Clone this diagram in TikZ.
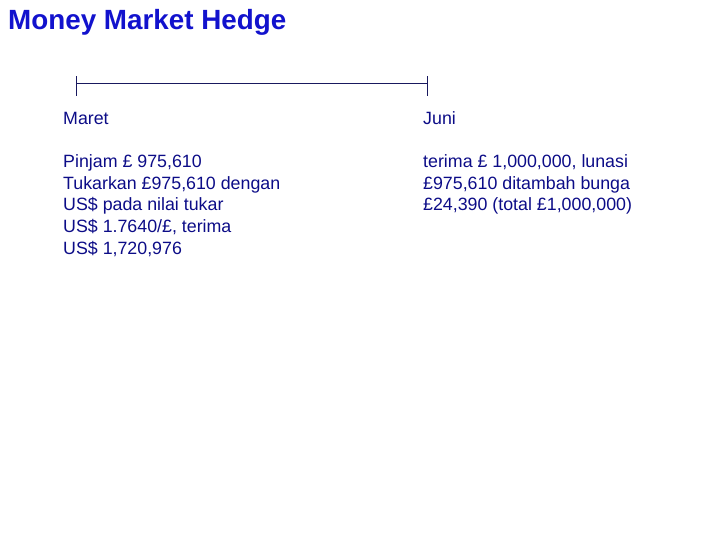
\documentclass[tikz,border=0pt]{standalone}
\usepackage{fontspec}
\setmainfont{Liberation Sans}
\usepackage{tikz}

\definecolor{judul}{RGB}{18,18,205}
\definecolor{teks}{RGB}{12,12,135}
\definecolor{garis}{RGB}{25,25,95}

\tikzset{
    blok/.style={anchor=north west, inner sep=0pt, align=left, text=teks,
        font=\fontsize{17.8}{21.7}\selectfont},
    bulan/.style={anchor=base west, inner sep=0pt, text=teks,
        font=\fontsize{17.8}{21.7}\selectfont},
}

\begin{document}
\begin{tikzpicture}[x=1pt, y=-1pt]
    \useasboundingbox (0,0) rectangle (720,540);

    \node[anchor=base west, inner sep=0pt, text=judul,
        font=\fontsize{27.8}{32}\selectfont\bfseries] (judul) at (8,29.5) {Money Market Hedge};

    % garis waktu
    \coordinate (maret) at (76.5,84);
    \coordinate (juni) at (427.5,84);
    \draw[garis, line width=1pt] (maret) -- (juni);
    \draw[garis] ([yshift=-12pt]maret) -- ([yshift=8pt]maret);
    \draw[garis] ([yshift=-12pt]juni) -- ([yshift=8pt]juni);

    \node[bulan] (kiri) at (63,124.5) {Maret};
    \node[bulan] (kanan) at (423,124.5) {Juni};

    \node[blok] (pinjam) at (63,154.5) {Pinjam £ 975,610\\
        Tukarkan £975,610 dengan\\
        US\$ pada nilai tukar\\
        US\$ 1.7640/£, terima\\
        US\$ 1,720,976};
    \node[blok] (terima) at (423,154.5) {terima £ 1,000,000, lunasi\\
        £975,610 ditambah bunga\\
        £24,390 (total £1,000,000)};

\end{tikzpicture}
\end{document}
